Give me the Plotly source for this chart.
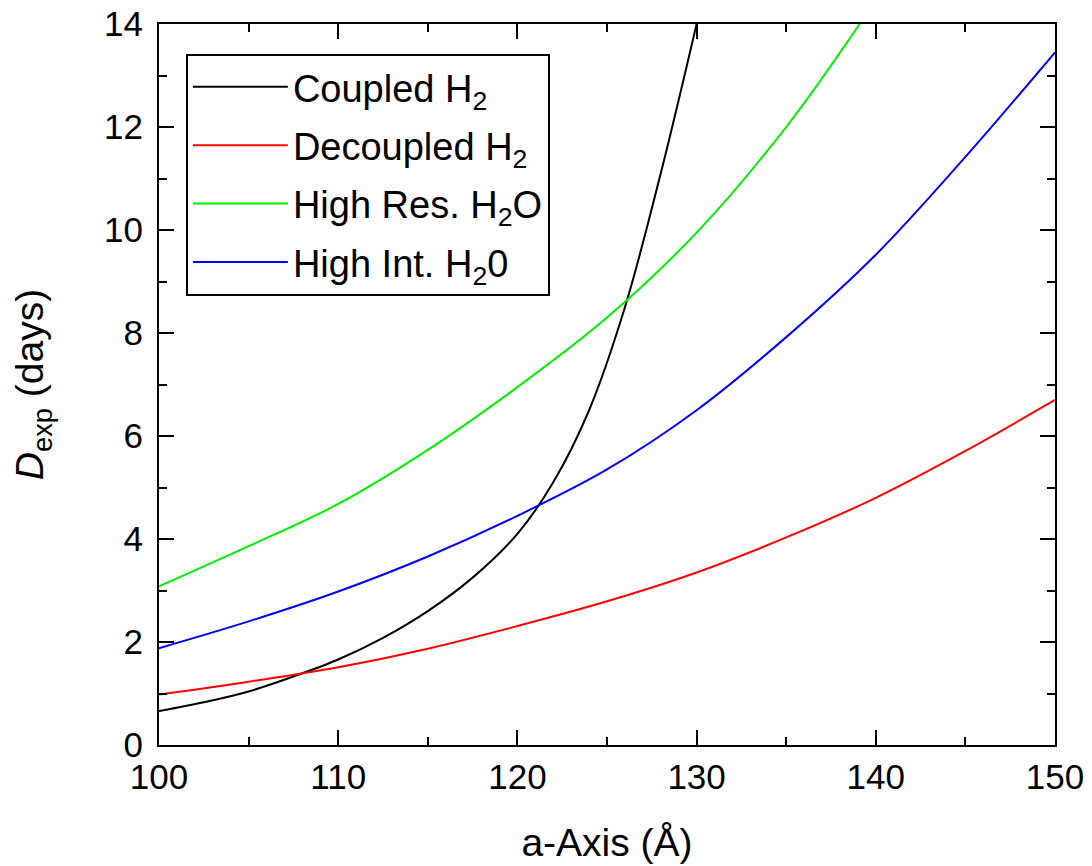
import plotly.graph_objects as go

# a-axis length (Å) and experiment duration (days) for each configuration
a_coupled = [100, 102.5, 105, 107.5, 110, 112.5, 115, 117.5, 120, 122, 124, 126, 128, 130]
d_coupled = [0.66, 0.83, 1.04, 1.33, 1.66, 2.08, 2.60, 3.25, 4.10, 5.10, 6.50, 8.50, 11.1, 14.0]

a_grid = [100, 105, 110, 115, 120, 125, 130, 135, 140, 145, 150]
d_decoupled = [0.98, 1.23, 1.51, 1.87, 2.31, 2.79, 3.35, 4.03, 4.80, 5.71, 6.70]
d_high_int = [1.88, 2.40, 2.98, 3.66, 4.45, 5.35, 6.50, 7.92, 9.52, 11.42, 13.45]

a_high_res = [100, 105, 110, 115, 120, 125, 130, 135, 139.1]
d_high_res = [3.08, 3.86, 4.68, 5.73, 6.95, 8.30, 9.95, 12.0, 14.0]

series = [
    ("Coupled H<sub>2</sub>", a_coupled, d_coupled, "#000000"),
    ("Decoupled H<sub>2</sub>", a_grid, d_decoupled, "#ff0000"),
    ("High Res. H<sub>2</sub>O", a_high_res, d_high_res, "#00ee00"),
    ("High Int. H<sub>2</sub>0", a_grid, d_high_int, "#0000ff"),
]

FONT = "Liberation Sans, Arial, sans-serif"

fig = go.Figure()
for i, (name, xs, ys, color) in enumerate(series):
    fig.add_trace(go.Scatter(
        x=xs, y=ys, name=name, mode="lines",
        line=dict(color=color, width=2, shape="spline", smoothing=1.0),
        legendgroup=f"g{i}",
    ))

axis_common = dict(
    showline=True, linecolor="black", linewidth=2, mirror="allticks",
    ticks="inside", ticklen=15, tickwidth=2, tickcolor="black",
    showgrid=False, zeroline=False, automargin=False,
    tickfont=dict(family=FONT, size=35, color="black"),
)

fig.update_xaxes(
    range=[100, 150], tick0=100, dtick=10,
    minor=dict(ticks="inside", ticklen=8, tickwidth=2, tickcolor="black", dtick=5),
    title=dict(text="a-Axis (Å)", font=dict(family=FONT, size=39, color="black"), standoff=34),
    **axis_common,
)
fig.update_yaxes(
    range=[0, 14], tick0=0, dtick=2, ticksuffix="\u2009",
    minor=dict(ticks="inside", ticklen=8, tickwidth=2, tickcolor="black", dtick=1),
    title=dict(text="<i>D</i><sub>exp</sub> (days)", font=dict(family=FONT, size=39, color="black"), standoff=48),
    **axis_common,
)

fig.update_layout(
    width=1092, height=866,
    margin=dict(l=159, r=37, t=24, b=121),
    paper_bgcolor="white", plot_bgcolor="white",
    showlegend=True,
    legend=dict(
        x=0.030, y=0.959, xanchor="left", yanchor="top",
        bgcolor="white", bordercolor="black", borderwidth=2,
        font=dict(family=FONT, size=38, color="black"),
        itemwidth=95, tracegroupgap=6,
    ),
)

fig.write_html("out.html")
